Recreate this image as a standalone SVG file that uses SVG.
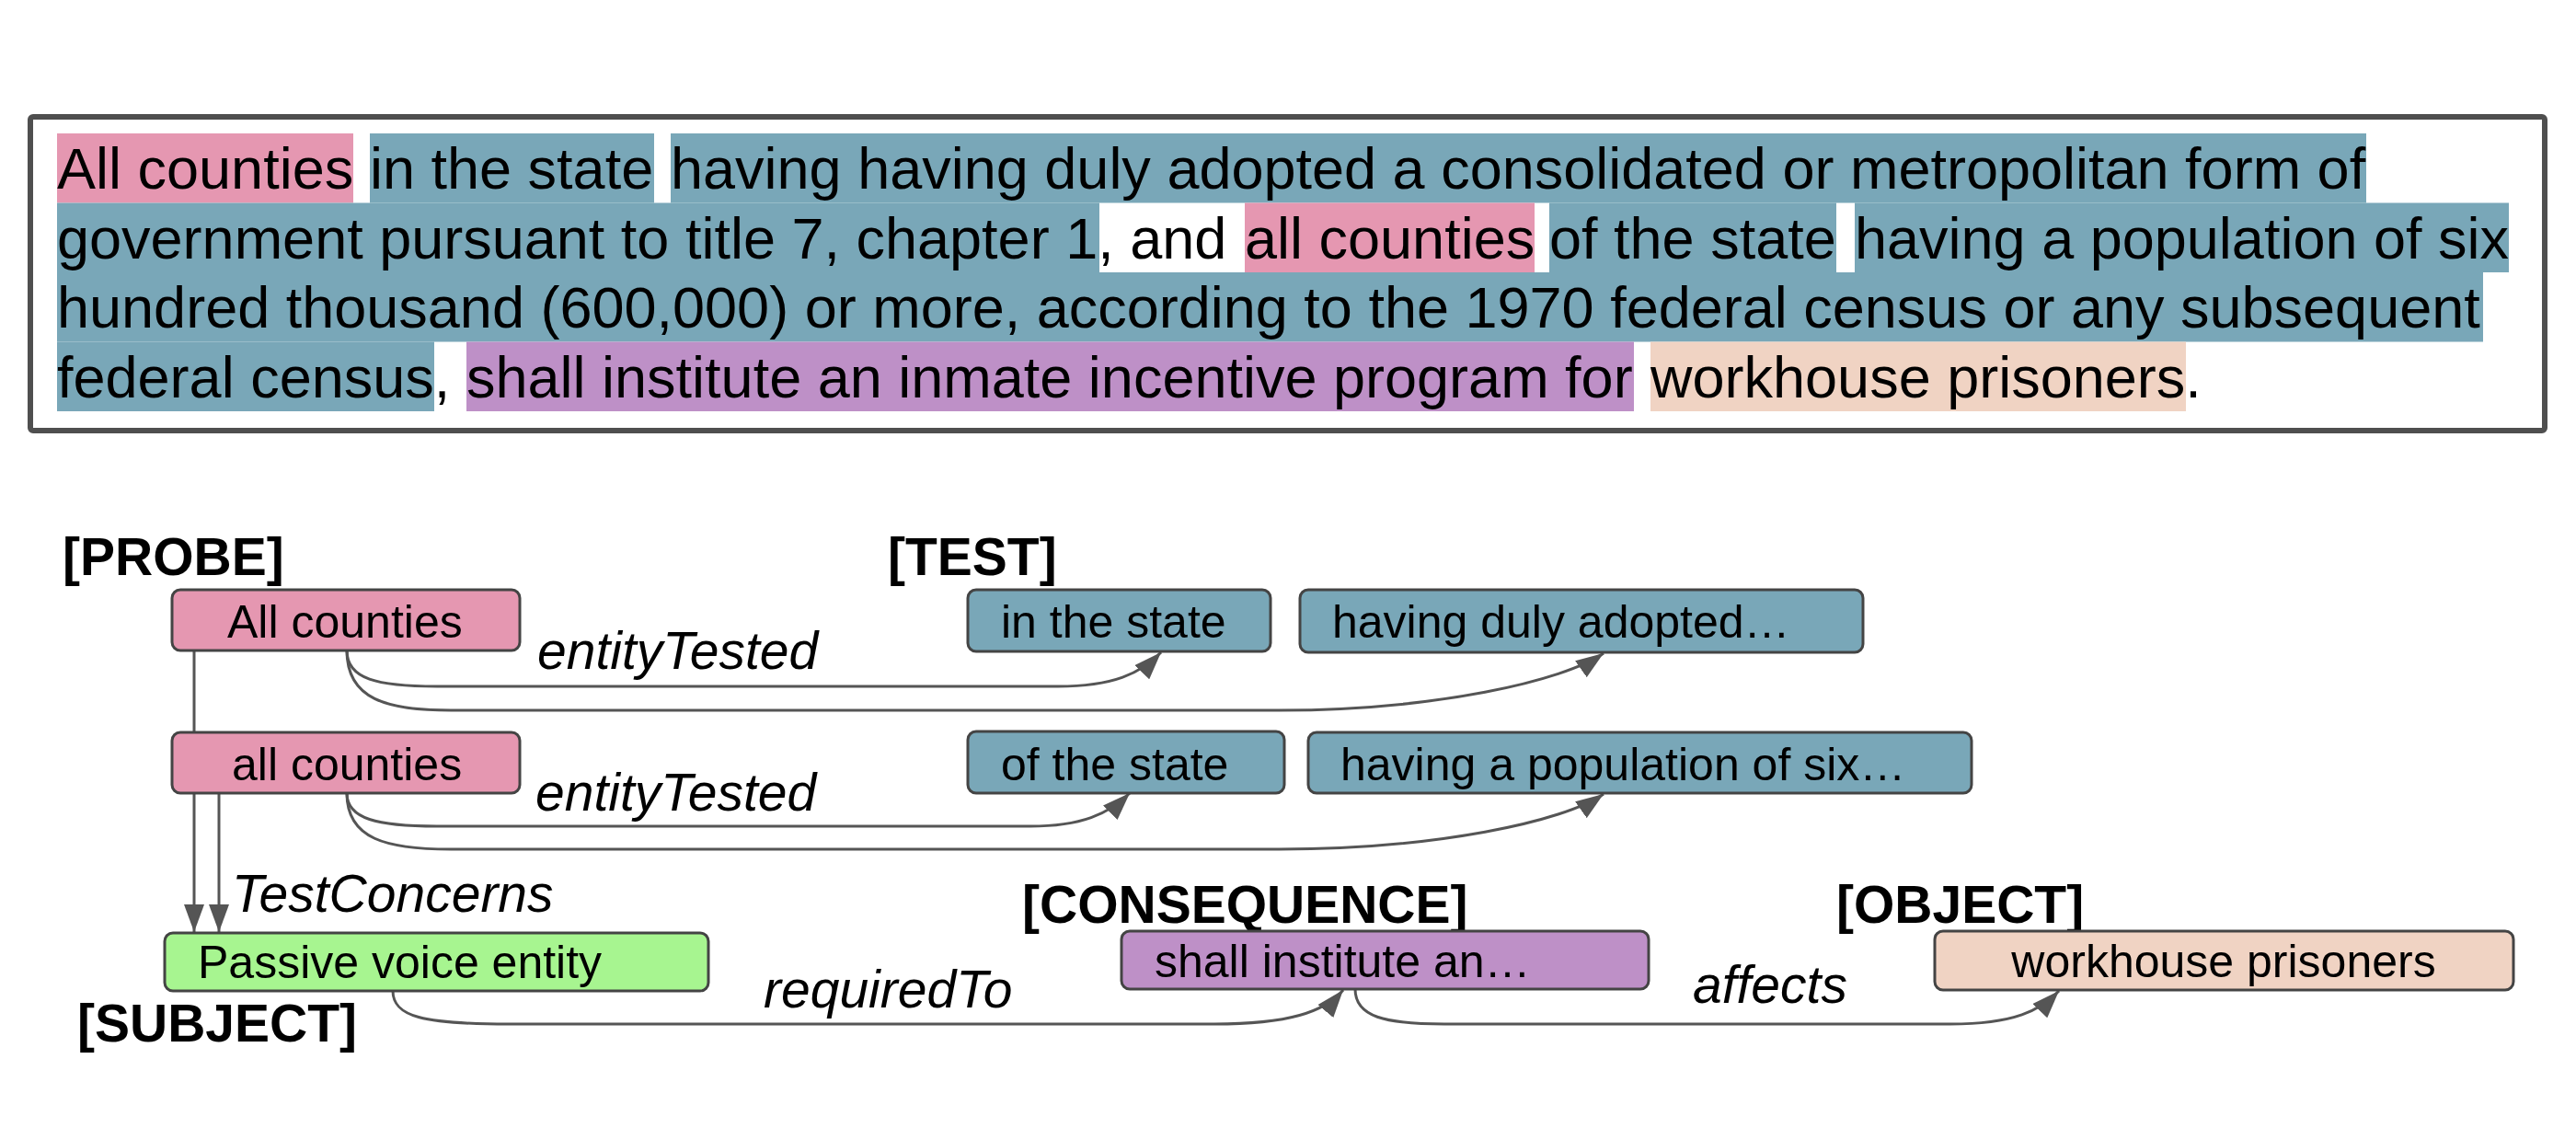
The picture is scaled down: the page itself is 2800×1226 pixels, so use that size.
<svg xmlns="http://www.w3.org/2000/svg" width="2800" height="1226" viewBox="0 0 2800 1226">
<defs>
<style>
.para{font-family:"Liberation Sans",Arial,sans-serif;font-size:63px;fill:#000}
.hl-pink{fill:#E597B1}
.hl-blue{fill:#79A7B8}
.hl-purple{fill:#BE90C7}
.hl-peach{fill:#F0D3C3}
.node rect{stroke:#444;stroke-width:3}
.ntext{font-family:"Liberation Sans",Arial,sans-serif;font-size:50px;fill:#000}
.role{font-family:"Liberation Sans",Arial,sans-serif;font-size:57px;font-weight:bold;fill:#000}
.elabel{font-family:"Liberation Sans",Arial,sans-serif;font-size:57px;font-style:italic;fill:#000}
.conn{fill:none;stroke:#555;stroke-width:3;marker-end:url(#arrow)}
.pink{fill:#E597B1}
.blue{fill:#79A7B8}
.green{fill:#A7F590}
.purple{fill:#BE90C7}
.peach{fill:#F0D3C3}
</style>
<marker id="arrow" markerUnits="userSpaceOnUse" markerWidth="30" markerHeight="22" refX="30" refY="11" orient="auto" viewBox="0 0 30 22">
<path d="M0,0 L30,11 L0,22 z" fill="#555"/>
</marker>
</defs>
<rect width="2800" height="1226" fill="#fff"/>

<g id="paragraph">
<rect x="33" y="127" width="2733" height="341" rx="3" fill="#fff" stroke="#4f4f4f" stroke-width="6"/>
<rect class="hl-pink" x="62" y="145" width="322" height="75.5"/>
<rect class="hl-blue" x="402" y="145" width="309" height="75.5"/>
<rect class="hl-blue" x="729" y="145" width="1843" height="75.5"/>
<rect class="hl-blue" x="62" y="220.5" width="1133" height="75.5"/>
<rect class="hl-pink" x="1353" y="220.5" width="315" height="75.5"/>
<rect class="hl-blue" x="1684" y="220.5" width="312" height="75.5"/>
<rect class="hl-blue" x="2016" y="220.5" width="711" height="75.5"/>
<rect class="hl-blue" x="62" y="296" width="2637" height="75.5"/>
<rect class="hl-blue" x="62" y="371.5" width="410" height="75.5"/>
<rect class="hl-purple" x="507" y="371.5" width="1269" height="75.5"/>
<rect class="hl-peach" x="1794" y="371.5" width="582" height="75.5"/>
<text class="para" y="205"><tspan x="62">All counties</tspan><tspan x="402">in the state</tspan><tspan x="729">having having duly adopted a consolidated or metropolitan form of</tspan></text>
<text class="para" y="280.5"><tspan x="62">government pursuant to title 7, chapter 1, and</tspan><tspan x="1353">all counties</tspan><tspan x="1684">of the state</tspan><tspan x="2016">having a population of six</tspan></text>
<text class="para" y="356" x="62">hundred thousand (600,000) or more, according to the 1970 federal census or any subsequent</text>
<text class="para" y="431.5"><tspan x="62">federal census,</tspan><tspan x="507">shall institute an inmate incentive program for</tspan><tspan x="1794">workhouse prisoners.</tspan></text>
</g>

<g id="role-labels">
<text class="role" x="68" y="625">[PROBE]</text>
<text class="role" x="965" y="625">[TEST]</text>
<text class="role" x="1111" y="1003">[CONSEQUENCE]</text>
<text class="role" x="1996" y="1003">[OBJECT]</text>
<text class="role" x="84" y="1132">[SUBJECT]</text>
</g>

<g id="connectors">
<path class="conn" d="M377,707 C377,738 410,746 475,746 L1150,746 C1210,746 1240,732 1262,709"/>
<path class="conn" d="M377,707 C377,760 420,772 490,772 L1390,772 C1560,772 1700,740 1743,710"/>
<path class="conn" d="M377,862 C377,890 410,898 475,898 L1120,898 C1175,898 1205,885 1228,862"/>
<path class="conn" d="M377,862 C377,912 420,923 490,923 L1390,923 C1560,923 1700,893 1743,863"/>
<path class="conn" d="M211,707 L211,1013"/>
<path class="conn" d="M238,862 L238,1013"/>
<path class="conn" d="M427,1077 C427,1105 460,1113 553,1113 L1320,1113 C1400,1113 1440,1100 1460,1076"/>
<path class="conn" d="M1473,1075 C1473,1105 1505,1113 1570,1113 L2120,1113 C2190,1113 2218,1098 2238,1077"/>
<text class="elabel" x="584" y="727">entityTested</text>
<text class="elabel" x="582" y="881">entityTested</text>
<text class="elabel" x="252" y="991">TestConcerns</text>
<text class="elabel" x="830" y="1095">requiredTo</text>
<text class="elabel" x="1840" y="1090">affects</text>
</g>

<g id="node-all-counties-1" class="node">
<rect class="pink" x="187" y="641" width="378" height="66" rx="9"/>
<text class="ntext" x="247" y="693">All counties</text>
</g>
<g id="node-in-the-state" class="node">
<rect class="blue" x="1052" y="641" width="329" height="67" rx="9"/>
<text class="ntext" x="1088" y="693">in the state</text>
</g>
<g id="node-having-duly-adopted" class="node">
<rect class="blue" x="1413" y="641" width="612" height="68" rx="9"/>
<text class="ntext" x="1448" y="693">having duly adopted…</text>
</g>
<g id="node-all-counties-2" class="node">
<rect class="pink" x="187" y="796" width="378" height="66" rx="9"/>
<text class="ntext" x="252" y="848">all counties</text>
</g>
<g id="node-of-the-state" class="node">
<rect class="blue" x="1052" y="795" width="344" height="67" rx="9"/>
<text class="ntext" x="1088" y="848">of the state</text>
</g>
<g id="node-having-population" class="node">
<rect class="blue" x="1422" y="796" width="721" height="66" rx="9"/>
<text class="ntext" x="1457" y="848">having a population of six…</text>
</g>
<g id="node-passive-voice" class="node">
<rect class="green" x="179" y="1014" width="591" height="63" rx="9"/>
<text class="ntext" x="215" y="1063">Passive voice entity</text>
</g>
<g id="node-shall-institute" class="node">
<rect class="purple" x="1219" y="1012" width="573" height="63" rx="9"/>
<text class="ntext" x="1255" y="1062">shall institute an…</text>
</g>
<g id="node-workhouse" class="node">
<rect class="peach" x="2103" y="1012" width="629" height="64" rx="9"/>
<text class="ntext" x="2417" y="1062" text-anchor="middle">workhouse prisoners</text>
</g>
</svg>
